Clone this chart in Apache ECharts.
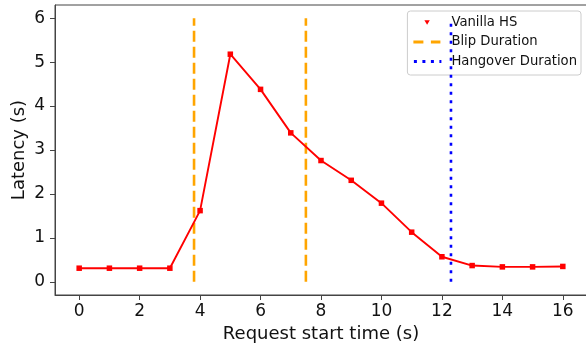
<!DOCTYPE html>
<html>
<head>
<meta charset="utf-8">
<script src="https://cdn.jsdelivr.net/npm/echarts@6/dist/echarts.min.js"></script>
<style>
  html, body { margin: 0; padding: 0; background: #fff; }
  #main { width: 586px; height: 347px; }
</style>
</head>
<body>
<div id="main"></div>
<script>
// request start times and measured latency
var startTimes = [0, 1, 2, 3, 4, 5, 6, 7, 8, 9, 10, 11, 12, 13, 14, 15, 16];
var latency = [0.31, 0.31, 0.31, 0.31, 1.62, 5.18, 4.38, 3.39, 2.76, 2.31, 1.79, 1.13, 0.57, 0.37, 0.34, 0.34, 0.35];

// event markers
var blipStart = 3.8;
var blipEnd = 7.5;
var hangoverEnd = 12.3;
var markerTop = 6;

var xTicks = [0, 2, 4, 6, 8, 10, 12, 14, 16];
var yTicks = [0, 1, 2, 3, 4, 5, 6];

var myChart = echarts.init(document.getElementById('main'));

var font = 'DejaVu Sans';
var ink = '#111';
var frame = '#444';

var points = startTimes.map(function (t, i) { return [t, latency[i]]; });

function vline(x) {
    return [[x, 0], [x, markerTop]];
}

// legend handles (the leading moves fix the icon box at 33x12)
var iconBox = 'path://M0,0 M33,12 ';
var triangleIcon = iconBox + 'M11,3.8 L16.4,3.8 L13.7,8.2 Z';
var dashIcon = iconBox + 'M0,4.5 h10 v3 h-10 Z M17.5,4.5 h9.5 v3 h-9.5 Z';
var dotIcon = iconBox + 'M0.5,4.5 h3 v3 h-3 Z M9,4.5 h3 v3 h-3 Z M17.5,4.5 h3 v3 h-3 Z M26,4.5 h2 v3 h-2 Z';

var option = {
    animation: false,
    textStyle: { fontFamily: font },
    grid: {
        left: 55, right: -1, top: 5, bottom: 52,
        outerBoundsMode: 'none',
        show: true,
        borderColor: frame,
        borderWidth: 1
    },
    legend: {
        orient: 'vertical',
        right: 5,
        top: 11,
        itemWidth: 33,
        itemHeight: 12,
        itemGap: 6.5,
        padding: [5, 4, 7, 6],
        borderColor: '#ccc',
        borderWidth: 1,
        borderRadius: 3,
        backgroundColor: 'rgba(255,255,255,0.8)',
        textStyle: { fontFamily: font, fontSize: 13.2, color: ink },
        data: [
            { name: 'Vanilla HS', icon: triangleIcon, itemStyle: { color: '#ff0000' } },
            { name: 'Blip Duration', icon: dashIcon, itemStyle: { color: '#ffa500' } },
            { name: 'Hangover Duration', icon: dotIcon, itemStyle: { color: '#0000ff' } }
        ]
    },
    xAxis: {
        type: 'value',
        min: -0.8,
        max: 16.8,
        name: 'Request start time (s)',
        nameLocation: 'middle',
        nameGap: 30,
        nameMoveOverlap: false,
        nameTextStyle: { fontFamily: font, fontSize: 18, color: ink },
        axisLine: { onZero: false, lineStyle: { color: frame } },
        axisTick: { show: true, length: 5, customValues: xTicks, lineStyle: { color: frame } },
        axisLabel: { customValues: xTicks, fontSize: 17, color: ink, margin: 8 },
        splitLine: { show: false }
    },
    yAxis: {
        type: 'value',
        min: -0.3,
        max: 6.3,
        name: 'Latency (s)',
        nameLocation: 'middle',
        nameGap: 27,
        nameMoveOverlap: false,
        nameTextStyle: { fontFamily: font, fontSize: 18, color: ink },
        axisLine: { show: true, onZero: false, lineStyle: { color: frame } },
        axisTick: { show: true, length: 5, customValues: yTicks, lineStyle: { color: frame } },
        axisLabel: { customValues: yTicks, fontSize: 17, color: ink, margin: 10 },
        splitLine: { show: false }
    },
    series: [
        {
            name: 'Blip Duration',
            type: 'line',
            data: vline(blipStart),
            symbol: 'none',
            lineStyle: { color: '#ffa500', width: 2.6, type: [11, 5] },
            itemStyle: { color: '#ffa500' },
            z: 2
        },
        {
            name: 'Blip Duration',
            type: 'line',
            data: vline(blipEnd),
            symbol: 'none',
            lineStyle: { color: '#ffa500', width: 2.6, type: [11, 5] },
            itemStyle: { color: '#ffa500' },
            z: 2
        },
        {
            name: 'Vanilla HS',
            type: 'line',
            data: points,
            symbol: 'rect',
            symbolSize: 5.5,
            lineStyle: { color: '#ff0000', width: 1.9 },
            itemStyle: { color: '#ff0000' },
            z: 3
        },
        {
            name: 'Hangover Duration',
            type: 'line',
            data: vline(hangoverEnd),
            symbol: 'none',
            lineStyle: { color: '#0000ff', width: 2.6, type: [3, 5.5] },
            itemStyle: { color: '#0000ff' },
            z: 4
        }
    ]
};

option && myChart.setOption(option);
</script>
</body>
</html>
